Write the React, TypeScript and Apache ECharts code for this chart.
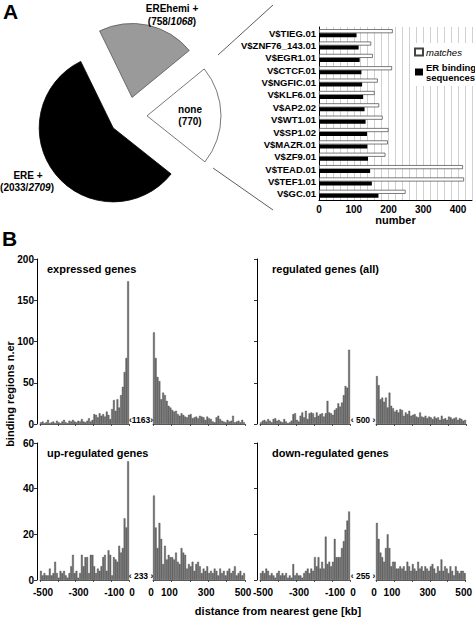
import React, { useEffect, useRef } from "react";
import * as echarts from "echarts";

const FONT = "'Liberation Sans', Arial, Helvetica, sans-serif";
const NARROW = "'Liberation Sans Narrow', 'Arial Narrow', 'Liberation Sans', Arial, sans-serif";

// ---------- Panel A: pie ----------
const pieNames = ["EREhemi +", "none", "ERE +"];
const pieValues = [758, 770, 2033];
const pieColors = ["#9a9a9a", "#ffffff", "#000000"];
const pieBorders = ["#555555", "#555555", "#000000"];

// ---------- Panel A: transcription factor bars ----------
const tfNames = [
  "V$TIEG.01", "V$ZNF76_143.01", "V$EGR1.01", "V$CTCF.01", "V$NGFIC.01", "V$KLF6.01", "V$AP2.02",
  "V$WT1.01", "V$SP1.02", "V$MAZR.01", "V$ZF9.01", "V$TEAD.01", "V$TEF1.01", "V$GC.01",
];
const tfMatches = [212, 150, 155, 210, 169, 160, 173, 183, 200, 198, 191, 414, 417, 249];
const tfErBinding = [108, 114, 117, 122, 124, 127, 131, 134, 138, 139, 141, 147, 152, 171];
const barTicks = [0, 100, 200, 300, 400];

// ---------- Panel B: histograms (10 kb bins) ----------
const upstreamBins = Array.from({ length: 50 }, (_, i) => -495 + 10 * i);
const downstreamBins = Array.from({ length: 50 }, (_, i) => 5 + 10 * i);

const expressedUpstream = [
  2, 3, 1, 2, 5, 1, 2, 3, 1, 4,
  2, 1, 3, 5, 2, 1, 4, 3, 5, 3,
  2, 4, 3, 6, 3, 2, 4, 7, 3, 5,
  12, 11, 8, 13, 10, 12, 9, 15, 11, 6,
  18, 29, 16, 30, 20, 35, 45, 63, 80, 173,
];
const expressedDownstream = [
  111, 80, 57, 52, 30, 38, 35, 28, 22, 20,
  17, 15, 16, 12, 10, 13, 11, 9, 8, 11,
  12, 7, 8, 9, 7, 10, 9, 8, 5, 9,
  7, 6, 3, 2, 8, 10, 6, 4, 3, 2,
  5, 3, 4, 10, 2, 3, 4, 2, 5, 2,
];
const regulatedUpstream = [
  2, 4, 5, 3, 6, 4, 2, 6, 7, 4,
  5, 3, 2, 6, 3, 1, 2, 4, 12, 13,
  5, 3, 10, 14, 8, 16, 6, 13, 14, 13,
  8, 14, 10, 12, 13, 9, 13, 28, 14, 13,
  11, 17, 19, 25, 21, 26, 35, 46, 44, 90,
];
const regulatedDownstream = [
  58, 47, 30, 32, 27, 32, 20, 38, 22, 19,
  15, 17, 14, 18, 17, 10, 14, 12, 16, 10,
  11, 12, 9, 8, 14, 9, 8, 10, 7, 9,
  8, 6, 9, 7, 8, 5, 10, 6, 7, 5,
  9, 8, 6, 7, 8, 5, 7, 6, 4, 5,
];
const upUpstream = [
  4, 2, 3, 2, 2, 5, 2, 3, 8, 3,
  1, 4, 3, 4, 2, 1, 3, 6, 11, 3,
  4, 1, 3, 11, 6, 10, 10, 3, 11, 11,
  6, 3, 5, 4, 6, 10, 11, 4, 13, 11,
  2, 10, 9, 8, 15, 12, 14, 27, 23, 52,
];
const upDownstream = [
  37, 23, 14, 25, 18, 7, 15, 9, 11, 10,
  10, 9, 12, 8, 7, 14, 12, 11, 5, 7,
  6, 8, 4, 7, 8, 6, 3, 5, 4, 6,
  3, 4, 3, 5, 4, 2, 5, 3, 4, 2,
  4, 5, 3, 4, 6, 2, 3, 4, 2, 3,
];
const downUpstream = [
  3, 4, 3, 5, 4, 2, 3, 2, 1, 3,
  4, 2, 3, 2, 3, 1, 2, 1, 7, 2,
  3, 2, 2, 1, 3, 4, 5, 3, 5, 4,
  10, 6, 10, 5, 8, 5, 19, 7, 8, 6,
  8, 18, 10, 10, 10, 14, 17, 22, 26, 30,
];
const downDownstream = [
  25, 18, 12, 10, 8, 14, 20, 14, 6, 8,
  8, 5, 5, 6, 5, 6, 4, 8, 6, 4,
  7, 5, 4, 8, 5, 6, 4, 6, 5, 4,
  6, 7, 5, 3, 6, 4, 9, 4, 6, 5,
  3, 6, 4, 2, 6, 4, 3, 4, 4, 3,
];

const panelTitles = ["expressed genes", "regulated genes (all)", "up-regulated genes", "down-regulated genes"];
const panelTotals = ["‹1163›", "‹ 500 ›", "‹ 233 ›", "‹ 255 ›"];
const panelUpstream = [expressedUpstream, regulatedUpstream, upUpstream, downUpstream];
const panelDownstream = [expressedDownstream, regulatedDownstream, upDownstream, downDownstream];
const rowYMax = [200, 60];
const rowYInterval = [50, 20];

function buildOption() {
  const grid: any[] = [];
  const xAxis: any[] = [];
  const yAxis: any[] = [];
  const series: any[] = [];

  const bold = (size: number) => ({ fontSize: size, fontWeight: "bold", color: "#000", fontFamily: FONT });

  // Panel A bar chart
  grid.push({ left: 319, top: 27, width: 153, height: 173 });
  xAxis.push({
    type: "value", gridIndex: 0, min: 0, max: 440, interval: 20,
    axisLine: { show: true, onZero: false, lineStyle: { color: "#000", width: 1 } },
    axisTick: { show: false },
    splitLine: { show: true, lineStyle: { color: "#c4c4c4", width: 0.8 } },
    axisLabel: { ...bold(10), margin: 4, formatter: (v: number) => (barTicks.includes(v) ? String(v) : "") },
    name: "number", nameLocation: "middle", nameGap: 14, nameTextStyle: bold(11),
  });
  yAxis.push({
    type: "category", gridIndex: 0, data: tfNames, inverse: true,
    axisLine: { show: true, onZero: false, lineStyle: { color: "#000", width: 1 } },
    axisTick: { show: false },
    axisLabel: { fontSize: 9.5, fontWeight: "bold", color: "#000", fontFamily: NARROW, margin: 3, interval: 0 },
  });
  series.push({
    type: "bar", name: "matches", xAxisIndex: 0, yAxisIndex: 0, data: tfMatches,
    barWidth: 4, barGap: "0%", itemStyle: { color: "#fff", borderColor: "#444", borderWidth: 0.7 },
  });
  series.push({
    type: "bar", name: "ER binding sequences", xAxisIndex: 0, yAxisIndex: 0, data: tfErBinding,
    barWidth: 4, barGap: "0%", itemStyle: { color: "#000" },
  });

  // Panel B
  const colL = [40, 260];
  const colLW = [89, 90];
  const colR = [153, 376];
  const colRW = [92, 90];
  const rowTop = [259, 443];
  const rowH = [165, 137];

  const titleTexts: any[] = [];
  for (let p = 0; p < 4; p++) {
    const col = p % 2;
    const row = Math.floor(p / 2);
    const showX = row === 1;
    const gL = grid.length;
    grid.push({ left: colL[col], top: rowTop[row], width: colLW[col], height: rowH[row] });
    grid.push({ left: colR[col], top: rowTop[row], width: colRW[col], height: rowH[row] });

    const xCommon = {
      type: "value", interval: 100,
      axisLine: { show: true, onZero: false, lineStyle: { color: "#333", width: 0.8 } },
      axisTick: { show: true, length: 2, lineStyle: { color: "#333", width: 0.8 } },
      splitLine: { show: false },
    };
    xAxis.push({
      ...xCommon, gridIndex: gL, min: -500, max: 0,
      axisLabel: {
        show: showX, ...bold(10), margin: 7, padding: [0, 0, 0, 6],
        formatter: (v: number) => (v === -400 || v === -200 ? "" : String(v)),
      },
    });
    xAxis.push({
      ...xCommon, gridIndex: gL + 1, min: 0, max: 500,
      axisLabel: {
        show: showX, ...bold(10), margin: 7, padding: [0, 4, 0, 0],
        formatter: (v: number) => (v === 200 || v === 400 ? "" : String(v)),
      },
    });
    yAxis.push({
      type: "value", gridIndex: gL, min: 0, max: rowYMax[row], interval: rowYInterval[row], offset: 3,
      axisLine: { show: true, onZero: false, lineStyle: { color: "#000", width: 1 } },
      axisTick: { show: true, length: 3, lineStyle: { color: "#000", width: 0.8 } },
      splitLine: { show: false },
      axisLabel: { show: col === 0, ...bold(10), margin: 3 },
    });
    yAxis.push({
      type: "value", gridIndex: gL + 1, min: 0, max: rowYMax[row], show: false,
      axisLine: { show: false, onZero: false }, splitLine: { show: false },
    });

    const barStyle = { color: "#717171", borderColor: "#3a3a3a", borderWidth: 0.35 };
    series.push({
      type: "bar", xAxisIndex: xAxis.length - 2, yAxisIndex: yAxis.length - 2, barWidth: 1.8,
      data: upstreamBins.map((b, i) => [b, panelUpstream[p][i]]), itemStyle: barStyle, silent: true,
    });
    series.push({
      type: "bar", xAxisIndex: xAxis.length - 1, yAxisIndex: yAxis.length - 1, barWidth: 1.8,
      data: downstreamBins.map((b, i) => [b, panelDownstream[p][i]]), itemStyle: barStyle, silent: true,
    });

    titleTexts.push({
      type: "text", x: col === 0 ? 47 : 272, y: rowTop[row] + 10, z: 100,
      style: { text: panelTitles[p], fill: "#000", font: `bold 11px ${FONT}`, textVerticalAlign: "middle", verticalAlign: "middle" },
    });
    const gapX = col === 0 ? 141 : 363;
    titleTexts.push({
      type: "text", x: gapX, y: rowTop[row] + rowH[row] - 4, z: 100,
      style: { text: panelTotals[p], fill: "#000", font: `bold 8.5px ${FONT}`, textAlign: "center", align: "center", textVerticalAlign: "middle", verticalAlign: "middle" },
    });
  }

  // Pie
  series.push({
    type: "pie", center: [128, 116], radius: 74, startAngle: 116, clockwise: true,
    selectedMode: "multiple", selectedOffset: 19, silent: true,
    label: { show: false }, labelLine: { show: false },
    data: pieNames.map((n, i) => ({
      name: n, value: pieValues[i], selected: true,
      itemStyle: { color: pieColors[i], borderColor: pieBorders[i], borderWidth: 0.8 },
    })),
  });

  const txt = (text: string, x: number, y: number, size = 10, align = "center") => ({
    type: "text", x, y, z: 100,
    style: {
      text, fill: "#000", font: `bold ${size}px ${FONT}`,
      textAlign: align, align, textVerticalAlign: "middle", verticalAlign: "middle",
      rich: { i: { fontStyle: "italic", fontWeight: "bold", fontSize: size, fontFamily: FONT, fill: "#000" } },
    },
  });

  const graphic: any[] = [
    txt("A", 3, 11, 21, "left"),
    txt("B", 2, 238, 21, "left"),
    txt("EREhemi +", 172, 8),
    txt("(758/{i|1068})", 172, 21),
    txt("none", 190, 109),
    txt("(770)", 190, 121),
    txt("ERE +", 28, 175),
    txt("(2033/{i|2709})", 27, 187),
    { type: "line", shape: { x1: 218, y1: 55, x2: 273, y2: 5 }, style: { stroke: "#333", lineWidth: 0.8 } },
    { type: "line", shape: { x1: 213, y1: 168, x2: 273, y2: 210 }, style: { stroke: "#333", lineWidth: 0.8 } },
    ...titleTexts,
    { ...txt("binding regions n.er", 10, 394, 11), rotation: Math.PI / 2 },
    txt("distance from nearest gene [kb]", 278, 611, 11),
  ];

  return {
    animation: false,
    grid, xAxis, yAxis, series, graphic,
    legend: {
      data: [{ name: "matches", icon: "rect" }, { name: "ER binding sequences", icon: "rect" }],
      orient: "vertical", left: 411, top: 43, itemWidth: 8, itemHeight: 7, itemGap: 5,
      backgroundColor: "#fff", padding: [4, 2, 4, 3], selectedMode: false,
      textStyle: {
        ...bold(9.5), lineHeight: 10, padding: [0, 0, 0, -2],
        rich: { i: { fontStyle: "italic", fontWeight: "normal", fontSize: 9.5, fontFamily: FONT, color: "#000" } },
      },
      formatter: (n: string) => (n === "matches" ? "{i|matches}" : "ER binding\nsequences"),
    },
  };
}

export default function App() {
  const ref = useRef<HTMLDivElement>(null);
  useEffect(() => {
    document.body.style.margin = "0";
    const chart = echarts.init(ref.current!, null, { renderer: "svg" });
    chart.setOption(buildOption() as any);
    return () => chart.dispose();
  }, []);
  return <div ref={ref} style={{ width: 475, height: 617 }} />;
}
